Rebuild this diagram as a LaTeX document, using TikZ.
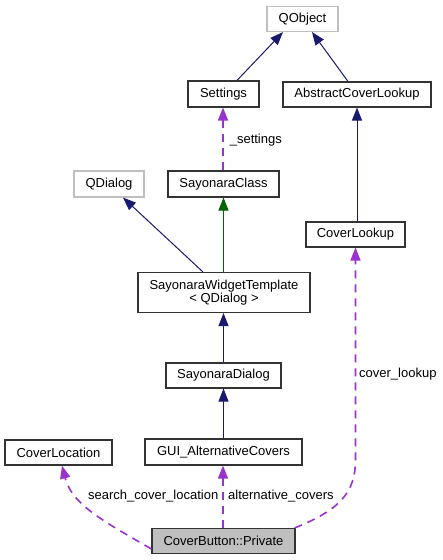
\documentclass[tikz,border=0pt]{standalone}
\usepackage{fontspec}
\setmainfont{Liberation Sans}
\usetikzlibrary{arrows.meta}
\definecolor{inhblue}{HTML}{191970}
\definecolor{inhgreen}{HTML}{006400}
\definecolor{usepurple}{HTML}{9A32CD}
\definecolor{boxgray}{HTML}{BFBFBF}
\begin{document}
\begin{tikzpicture}[x=1pt,y=-1pt,
  every node/.style={font=\fontsize{13}{15}\selectfont},
  cls/.style={draw=black!80, line width=1.1pt, fill=white, inner sep=0pt, align=center},
  ext/.style={draw=boxgray, line width=1.1pt, fill=white, inner sep=0pt},
  cur/.style={draw=black!80, line width=1.1pt, fill=boxgray, inner sep=0pt},
  inh/.style={draw=inhblue, line width=1pt, -{Triangle[width=10pt,length=13pt,fill=inhblue]}},
  inhg/.style={draw=inhgreen, line width=1pt, -{Triangle[width=10pt,length=13pt,fill=inhgreen]}},
  use/.style={draw=usepurple, line width=1.6pt, dash pattern=on 8pt off 6pt, -{Triangle[width=10pt,length=13pt,fill=usepurple]}},
  lbl/.style={inner sep=0pt, anchor=west}
]
\useasboundingbox (0,0) rectangle (443,560);
\node[ext, minimum width=71pt, minimum height=25pt] (qobject) at (302.5,19) {QObject};
\node[cls, minimum width=71pt, minimum height=26pt] (settings) at (223.5,94) {Settings};
\node[cls, minimum width=148pt, minimum height=25pt] (acl) at (357,94.5) {AbstractCoverLookup};
\node[ext, minimum width=70pt, minimum height=26pt] (qdialog) at (109,184) {QDialog};
\node[cls, minimum width=111pt, minimum height=26pt] (sclass) at (223.5,184) {SayonaraClass};
\node[cls, minimum width=99pt, minimum height=25pt] (clookup) at (355.5,234.5) {CoverLookup};
\node[cls, minimum width=172pt, minimum height=40pt] (swt) at (224,292.5) {SayonaraWidgetTemplate\\[-2pt]{<} QDialog {>}};
\node[cls, minimum width=115pt, minimum height=25pt] (sdialog) at (223.5,375.5) {SayonaraDialog};
\node[cls, minimum width=107pt, minimum height=25pt] (cloc) at (58.5,452.5) {CoverLocation};
\node[cls, minimum width=157pt, minimum height=26pt] (guiac) at (223.5,452) {GUI\_AlternativeCovers};
\node[cur, minimum width=143pt, minimum height=25pt] (cbp) at (223.5,541) {CoverButton::Private};

\draw[inh] ([xshift=13.5pt]settings.north) -- ([xshift=-19.5pt]qobject.south);
\draw[inh] ([xshift=-9pt]acl.north) -- ([xshift=9.5pt]qobject.south);
\draw[inh] (clookup.north -| acl.south) -- (acl.south);
\draw[inh] ([xshift=-21pt]swt.north) -- ([xshift=14pt]qdialog.south);
\draw[inhg] (swt.north -| sclass.south) -- (sclass.south);
\draw[inh] (sdialog.north) -- (swt.south -| sdialog.north);
\draw[inh] (guiac.north) -- (sdialog.south);

\draw[use] ([xshift=-0.5pt]sclass.north) -- node[lbl, pos=0.48, xshift=6pt] {\_settings} ([xshift=-0.5pt]settings.south);
\draw[use] ([xshift=-0.5pt]cbp.north) -- ([xshift=-0.5pt]guiac.south);
\draw[use] ([yshift=-8pt]cbp.west) .. controls (105,522) and (72,505) .. ([xshift=3.5pt]cloc.south);
\draw[use] ([xshift=-1pt]cbp.north east) .. controls (340,510) and (355.5,492) .. (355.5,460) -- (clookup.south);

\node[lbl] (lcl) at (359,374) {cover\_lookup};
\node[lbl] (lscl) at (88,496) {search\_cover\_location};
\node[lbl] (lac) at (228,496) {alternative\_covers};
\end{tikzpicture}
\end{document}
